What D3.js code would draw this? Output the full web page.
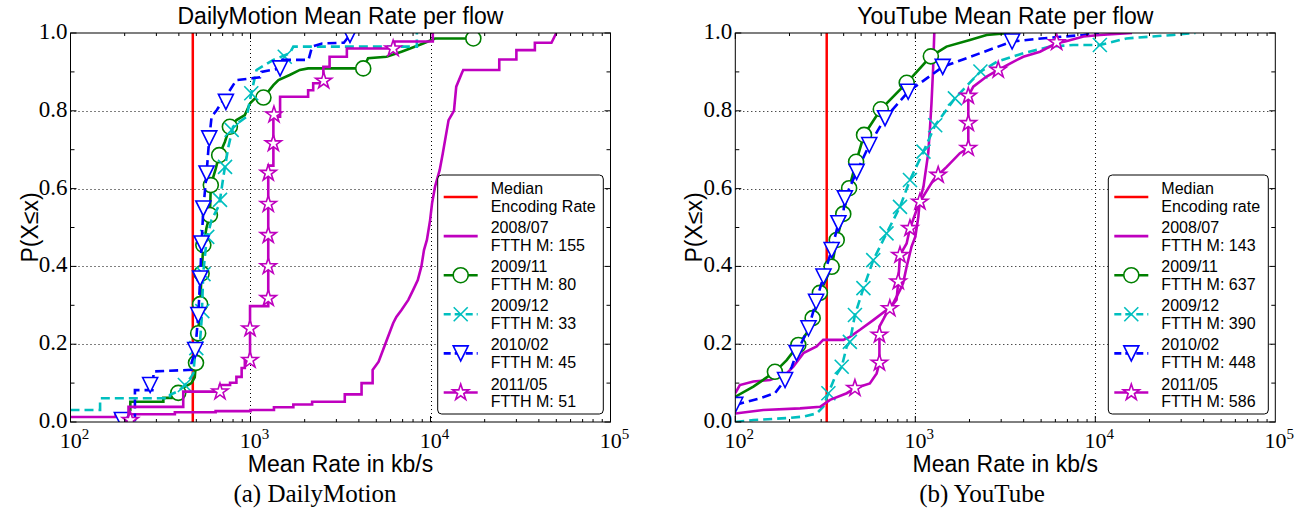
<!DOCTYPE html>
<html><head><meta charset="utf-8">
<script src="https://cdn.jsdelivr.net/npm/d3@7"></script>
<style>body{margin:0;background:#fff;} svg{display:block;background:#fff;}</style>
</head><body>
<svg id="chart" width="1302" height="510"></svg>
<script>
// ---------------- DATA ----------------
const seriesNames = ["2008/07","2009/11","2009/12","2010/02","2011/05"];
const dmCounts = [155,80,33,45,51];
const ytCounts = [143,637,390,448,586];
const xTickValues = [100,1000,10000,100000];
const xTickExps = ["2","3","4","5"];
const yTickValues = [0,0.2,0.4,0.6,0.8,1.0];
const yTickLabels = ["0.0","0.2","0.4","0.6","0.8","1.0"];
const dmMedian = 478;
const ytMedian = 322;

// DailyMotion CDFs [kb/s, P]
const dm0807 = [[100,0.013],[178,0.013],[178,0.02],[380,0.02],[380,0.025],[640,0.025],[640,0.028],[1000,0.028],[1000,0.031],[1350,0.031],[1350,0.038],[1730,0.038],[1730,0.045],[2200,0.045],[2200,0.052],[3340,0.052],[3340,0.071],[4140,0.071],[4140,0.1],[4770,0.1],[4770,0.134],[5150,0.155],[5710,0.21],[6200,0.254],[6460,0.27],[6900,0.288],[7530,0.314],[8000,0.339],[8500,0.365],[8900,0.4],[9200,0.442],[9550,0.468],[9950,0.519],[10200,0.562],[10600,0.605],[11250,0.648],[11700,0.69],[12600,0.776],[13500,0.80],[13900,0.862],[14900,0.896],[15200,0.905],[24100,0.905],[24100,0.932],[30000,0.932],[30000,0.956],[38000,0.956],[38000,0.975],[47000,0.975],[50000,1.0]];
const dm0911 = [[190,0.0],[200,0.01],[215,0.03],[215,0.052],[328,0.052],[328,0.062],[364,0.062],[364,0.07],[397,0.075],[430,0.09],[470,0.10],[490,0.115],[498,0.152],[512,0.228],[525,0.303],[535,0.382],[547,0.455],[570,0.5],[595,0.532],[602,0.609],[640,0.65],[670,0.686],[720,0.72],[768,0.759],[835,0.776],[930,0.789],[994,0.819],[1060,0.832],[1180,0.834],[1340,0.866],[1430,0.879],[1650,0.892],[1880,0.905],[2090,0.909],[4230,0.909],[4500,0.935],[5700,0.939],[6900,0.952],[7700,0.96],[9100,0.973],[10600,0.986],[17300,0.986],[17600,1.0]];
const dm0911Mk = [[397,0.075],[498,0.152],[512,0.228],[525,0.303],[535,0.382],[547,0.455],[595,0.532],[602,0.609],[670,0.686],[768,0.759],[1180,0.834],[4230,0.909],[17300,0.986]];
const dm0912 = [[100,0.031],[146,0.031],[146,0.061],[357,0.061],[357,0.07],[400,0.08],[432,0.095],[470,0.117],[481,0.125],[495,0.185],[525,0.211],[535,0.262],[547,0.386],[570,0.468],[607,0.519],[677,0.562],[677,0.571],[707,0.631],[754,0.708],[800,0.759],[953,0.785],[1010,0.845],[1080,0.905],[1340,0.931],[1650,0.948],[1730,0.965],[8400,0.965],[8400,1.0]];
const dm0912Mk = [[432,0.095],[500,0.19],[540,0.285],[548,0.38],[575,0.476],[677,0.571],[722,0.656],[786,0.751],[1010,0.845],[1550,0.939]];
const dm1002 = [[185,0.0],[228,0.005],[228,0.082],[285,0.082],[290,0.13],[470,0.134],[470,0.151],[493,0.185],[513,0.275],[525,0.369],[535,0.459],[547,0.549],[570,0.639],[590,0.729],[608,0.785],[650,0.802],[707,0.828],[768,0.853],[835,0.879],[1130,0.886],[1150,0.9],[1460,0.909],[1500,0.931],[2100,0.931],[2200,0.965],[2500,0.973],[3300,0.975],[3570,0.995],[3600,1.0]];
const dm1002Mk = [[193,0.005],[277,0.095],[493,0.185],[513,0.275],[525,0.369],[535,0.459],[547,0.549],[570,0.639],[590,0.729],[730,0.823],[1460,0.909],[3570,0.995]];
const dm1105 = [[200,0.0],[210,0.005],[210,0.039],[423,0.039],[423,0.078],[677,0.078],[677,0.095],[770,0.095],[770,0.101],[835,0.101],[835,0.116],[893,0.116],[893,0.139],[930,0.139],[930,0.159],[994,0.159],[994,0.298],[1255,0.298],[1255,0.659],[1340,0.659],[1340,0.785],[1460,0.785],[1460,0.836],[2090,0.836],[2090,0.853],[2230,0.853],[2230,0.871],[2540,0.871],[2540,0.913],[2750,0.913],[2750,0.939],[3430,0.939],[3430,0.96],[6300,0.96],[6300,0.978],[10300,0.978],[10300,1.0]];
const dm1105Mk = [[215,0.005],[677,0.078],[994,0.159],[994,0.24],[1255,0.318],[1255,0.40],[1255,0.48],[1255,0.56],[1255,0.64],[1340,0.716],[1350,0.79],[2550,0.877],[6200,0.96]];

// YouTube CDFs [kb/s, P]
const yt0807 = [[100,0.074],[106,0.095],[126,0.104],[156,0.108],[193,0.125],[210,0.142],[239,0.177],[283,0.194],[308,0.211],[398,0.211],[433,0.219],[493,0.237],[584,0.262],[692,0.288],[753,0.305],[822,0.339],[856,0.357],[895,0.399],[953,0.451],[1000,0.476],[1040,0.528],[1060,0.571],[1110,0.605],[1180,0.691],[1205,0.751],[1230,0.819],[1255,0.905],[1275,1.0]];
const yt0911 = [[100,0.065],[126,0.091],[166,0.129],[193,0.159],[224,0.198],[249,0.228],[269,0.267],[295,0.332],[343,0.399],[366,0.468],[398,0.535],[429,0.601],[469,0.669],[519,0.738],[643,0.804],[896,0.872],[1220,0.94],[1490,0.965],[2010,0.982],[2490,0.995],[3350,1.0]];
const yt0911Mk = [[166,0.129],[224,0.198],[269,0.267],[295,0.332],[343,0.399],[366,0.468],[398,0.535],[429,0.601],[469,0.669],[519,0.738],[643,0.804],[896,0.872],[1220,0.94]];
const yt0912 = [[100,0.0],[126,0.005],[193,0.01],[239,0.014],[283,0.022],[308,0.039],[329,0.074],[358,0.116],[390,0.142],[416,0.194],[433,0.206],[462,0.275],[515,0.344],[584,0.416],[692,0.485],[822,0.553],[934,0.622],[1110,0.695],[1290,0.763],[1660,0.832],[2300,0.901],[2840,0.926],[3980,0.948],[5600,0.965],[7530,0.969],[10600,0.969],[14900,0.986],[27100,0.995],[36000,1.0]];
const yt0912Mk = [[329,0.074],[390,0.142],[433,0.206],[462,0.275],[515,0.344],[584,0.416],[692,0.485],[822,0.553],[934,0.622],[1110,0.695],[1290,0.763],[1660,0.832],[2300,0.901],[10600,0.969]];
const yt1002 = [[100,0.044],[116,0.052],[137,0.061],[166,0.074],[189,0.108],[206,0.142],[219,0.177],[255,0.241],[281,0.309],[309,0.374],[343,0.442],[374,0.511],[398,0.536],[406,0.575],[472,0.643],[555,0.712],[679,0.781],[913,0.849],[1420,0.913],[3450,0.978],[5000,0.986],[8600,0.995],[10500,1.0]];
const yt1002Mk = [[100,0.044],[189,0.108],[219,0.177],[255,0.241],[281,0.309],[309,0.374],[343,0.442],[374,0.511],[406,0.575],[472,0.643],[555,0.712],[679,0.781],[913,0.849],[1420,0.913],[3450,0.978]];
const yt1105 = [[100,0.022],[143,0.031],[229,0.035],[296,0.039],[336,0.057],[416,0.074],[462,0.087],[559,0.099],[610,0.125],[632,0.152],[632,0.245],[692,0.279],[722,0.292],[787,0.314],[804,0.361],[822,0.429],[895,0.459],[934,0.498],[1017,0.545],[1061,0.566],[1259,0.622],[1340,0.635],[1494,0.656],[1770,0.691],[1970,0.704],[1970,0.838],[2100,0.862],[2490,0.888],[2890,0.905],[3500,0.926],[3980,0.939],[4930,0.952],[6100,0.974],[6800,0.978],[8600,0.991],[10600,0.995],[16000,1.0]];
const yt1105Mk = [[462,0.087],[632,0.152],[632,0.224],[722,0.292],[804,0.361],[822,0.429],[934,0.498],[1061,0.566],[1340,0.635],[1970,0.704],[1970,0.768],[1970,0.838],[2890,0.905],[6100,0.976]];

// ---------------- STYLE ----------------
const C = {m:'#bf00bf', g:'#008000', c:'#00bfbf', b:'#0000ff', r:'#ff0000'};
const styles = [
  {color:C.m, dash:null, marker:null},
  {color:C.g, dash:null, marker:'circle'},
  {color:C.c, dash:'9,5', marker:'x'},
  {color:C.b, dash:'9,5', marker:'tri'},
  {color:C.m, dash:null, marker:'star'}
];
const SANS = "'Liberation Sans', Arial, sans-serif";
const SERIF = "'Liberation Serif', 'Times New Roman', serif";

const panels = [
  {id:'dm', x0:70.5, x1:610.5, title:'DailyMotion Mean Rate per flow', caption:'(a) DailyMotion',
   median:dmMedian, medLabel:['Median','Encoding Rate'], counts:dmCounts,
   data:[dm0807,dm0911,dm0912,dm1002,dm1105], marks:[null,dm0911Mk,dm0912Mk,dm1002Mk,dm1105Mk],
   legX:437.7, legW:165.6, capX:315},
  {id:'yt', x0:735.3, x1:1275.3, title:'YouTube Mean Rate per flow', caption:'(b) YouTube',
   median:ytMedian, medLabel:['Median','Encoding rate'], counts:ytCounts,
   data:[yt0807,yt0911,yt0912,yt1002,yt1105], marks:[null,yt0911Mk,yt0912Mk,yt1002Mk,yt1105Mk],
   legX:1108.3, legW:160, capX:982}
];
const yTop = 33, yBot = 422;

const svg = d3.select('#chart');
svg.append('rect').attr('width',1302).attr('height',510).attr('fill','#fff');

function starPath(R){
  const r = R*0.382; let p='';
  for(let i=0;i<10;i++){
    const a = -Math.PI/2 + i*Math.PI/5;
    const rr = i%2===0?R:r;
    p += (i===0?'M':'L') + (rr*Math.cos(a)).toFixed(2)+','+(rr*Math.sin(a)).toFixed(2);
  }
  return p+'Z';
}
function drawMarker(g, type, color, cx, cy){
  if(!type) return;
  if(type==='circle'){
    g.append('circle').attr('cx',cx).attr('cy',cy).attr('r',7.5)
      .attr('fill','#fff').attr('stroke',color).attr('stroke-width',1.6);
  } else if(type==='x'){
    const s=7;
    g.append('path').attr('d',`M${cx-s},${cy-s}L${cx+s},${cy+s}M${cx-s},${cy+s}L${cx+s},${cy-s}`)
      .attr('stroke',color).attr('stroke-width',1.6).attr('fill','none');
  } else if(type==='tri'){
    const s=7.5;
    g.append('path').attr('d',`M${cx-s},${cy-s}L${cx+s},${cy-s}L${cx},${cy+s}Z`)
      .attr('fill','#fff').attr('stroke',color).attr('stroke-width',1.6);
  } else if(type==='star'){
    g.append('path').attr('d',starPath(8.5)).attr('transform',`translate(${cx},${cy})`)
      .attr('fill','#fff').attr('stroke',color).attr('stroke-width',1.6);
  }
}

panels.forEach((P,pi)=>{
  const x = d3.scaleLog().domain([100,100000]).range([P.x0,P.x1]);
  const y = d3.scaleLinear().domain([0,1]).range([yBot,yTop]);
  const g = svg.append('g');
  const clipId = 'clip-'+P.id;
  svg.append('clipPath').attr('id',clipId).append('rect')
    .attr('x',P.x0).attr('y',yTop).attr('width',P.x1-P.x0).attr('height',yBot-yTop);

  // grid
  const grid = g.append('g').attr('stroke','#000').attr('stroke-width',1).attr('stroke-dasharray','1,3');
  xTickValues.slice(1,-1).forEach(v=>{
    grid.append('line').attr('x1',Math.round(x(v))+0.5).attr('x2',Math.round(x(v))+0.5).attr('y1',yTop).attr('y2',yBot);
  });
  yTickValues.slice(1,-1).forEach(v=>{
    grid.append('line').attr('y1',Math.round(y(v))+0.5).attr('y2',Math.round(y(v))+0.5).attr('x1',P.x0).attr('x2',P.x1);
  });

  const plot = g.append('g').attr('clip-path',`url(#${clipId})`);
  // median line
  plot.append('line').attr('x1',x(P.median)).attr('x2',x(P.median)).attr('y1',yTop).attr('y2',yBot)
    .attr('stroke',C.r).attr('stroke-width',2.5);
  const line = d3.line().x(d=>x(d[0])).y(d=>y(d[1]));
  P.data.forEach((d,i)=>{
    const st = styles[i];
    plot.append('path').attr('d',line(d)).attr('fill','none').attr('stroke',st.color)
      .attr('stroke-width',2.6).attr('stroke-dasharray',st.dash).attr('stroke-linejoin','miter');
    if(P.marks[i]) P.marks[i].forEach(m=>drawMarker(plot, st.marker, st.color, x(m[0]), y(m[1])));
  });

  // frame
  g.append('rect').attr('x',P.x0).attr('y',yTop).attr('width',P.x1-P.x0).attr('height',yBot-yTop)
    .attr('fill','none').attr('stroke','#000').attr('stroke-width',1);
  // ticks
  const tk = g.append('g').attr('stroke','#000').attr('stroke-width',1);
  for(let e=2;e<5;e++){
    for(let k=1;k<10;k++){
      const v = k*Math.pow(10,e); if(v>100000) continue;
      const len = k===1?6:3; const px = x(v);
      tk.append('line').attr('x1',px).attr('x2',px).attr('y1',yBot).attr('y2',yBot-len);
      tk.append('line').attr('x1',px).attr('x2',px).attr('y1',yTop).attr('y2',yTop+len);
    }
  }
  d3.range(0,11).forEach(i=>{
    const v=i/10, len = i%2===0?6:4, py=y(v);
    tk.append('line').attr('x1',P.x0).attr('x2',P.x0+len).attr('y1',py).attr('y2',py);
    tk.append('line').attr('x1',P.x1).attr('x2',P.x1-len).attr('y1',py).attr('y2',py);
  });
  // tick labels
  yTickValues.forEach((v,i)=>{
    g.append('text').attr('x',P.x0-3).attr('y',y(v)+6).attr('text-anchor','end')
      .attr('font-family',SERIF).attr('font-size',23).attr('fill','#000').text(yTickLabels[i]);
  });
  xTickValues.forEach((v,i)=>{
    const t = g.append('text').attr('x',x(v)+4).attr('y',yBot+26).attr('text-anchor','middle')
      .attr('font-family',SERIF).attr('font-size',22).attr('fill','#000');
    t.append('tspan').text('10');
    t.append('tspan').attr('dy',-9).attr('font-size',15).text(xTickExps[i]);
  });
  // titles / labels
  const cx = (P.x0+P.x1)/2;
  g.append('text').attr('x',cx).attr('y',24).attr('text-anchor','middle')
    .attr('font-family',SANS).attr('font-size',23).attr('fill','#000').text(P.title);
  g.append('text').attr('x',cx).attr('y',472).attr('text-anchor','middle')
    .attr('font-family',SANS).attr('font-size',23).attr('fill','#000').text('Mean Rate in kb/s');
  g.append('text').attr('transform',`translate(${P.x0-33},${(yTop+yBot)/2}) rotate(-90)`).attr('text-anchor','middle')
    .attr('font-family',SANS).attr('font-size',23).attr('fill','#000').text('P(X≤x)');
  g.append('text').attr('x',P.capX).attr('y',502).attr('text-anchor','middle')
    .attr('font-family',SERIF).attr('font-size',25).attr('fill','#000').text(P.caption);

  // legend
  const L = g.append('g');
  const lx = P.legX, ly = 175, lh = 239;
  L.append('rect').attr('x',lx).attr('y',ly).attr('width',P.legW).attr('height',lh).attr('rx',4)
    .attr('fill','#fff').attr('stroke','#000').attr('stroke-width',1);
  const entries = [{st:{color:C.r,dash:null,marker:null}, lines:P.medLabel}]
    .concat(seriesNames.map((n,i)=>({st:styles[i], lines:[n,'FTTH M: '+P.counts[i]]})));
  entries.forEach((en,i)=>{
    const c1 = 188 + i*39.1;
    const hy = c1 + 9;
    const hx0 = lx+6, hx1 = lx+40;
    L.append('line').attr('x1',hx0).attr('x2',hx1).attr('y1',hy).attr('y2',hy)
      .attr('stroke',en.st.color).attr('stroke-width',2.6).attr('stroke-dasharray',en.st.dash ? '7,4' : null);
    drawMarker(L, en.st.marker, en.st.color, (hx0+hx1)/2, hy);
    en.lines.forEach((t,j)=>{
      L.append('text').attr('x',lx+53).attr('y',c1+6+j*17.8)
        .attr('font-family',SANS).attr('font-size',16).attr('fill','#000').text(t);
    });
  });
});
</script>
</body></html>
